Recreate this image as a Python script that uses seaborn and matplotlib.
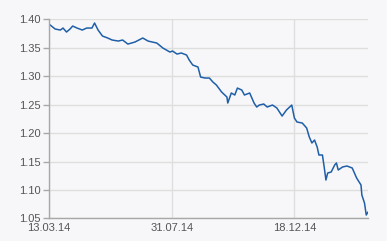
import matplotlib
matplotlib.use("Agg")
import matplotlib.pyplot as plt
import matplotlib.dates as mdates
import pandas as pd
import seaborn as sns

dates = [
    "2014-03-13", "2014-03-20", "2014-03-26", "2014-03-29", "2014-04-02", "2014-04-06",
    "2014-04-09", "2014-04-14", "2014-04-20", "2014-04-25", "2014-05-01", "2014-05-04",
    "2014-05-08", "2014-05-13", "2014-05-19", "2014-05-24", "2014-05-31", "2014-06-05",
    "2014-06-11", "2014-06-19", "2014-06-28", "2014-07-04", "2014-07-09", "2014-07-14",
    "2014-07-21", "2014-07-29", "2014-08-01", "2014-08-06", "2014-08-11", "2014-08-17",
    "2014-08-20", "2014-08-24", "2014-08-30", "2014-09-02", "2014-09-07", "2014-09-12",
    "2014-09-16", "2014-09-20", "2014-09-26", "2014-10-02", "2014-10-03", "2014-10-07",
    "2014-10-11", "2014-10-14", "2014-10-19", "2014-10-22", "2014-10-28", "2014-11-02",
    "2014-11-05", "2014-11-08", "2014-11-13", "2014-11-17", "2014-11-23", "2014-11-28",
    "2014-12-04", "2014-12-09", "2014-12-15", "2014-12-18", "2014-12-21", "2014-12-27",
    "2015-01-01", "2015-01-04", "2015-01-07", "2015-01-10", "2015-01-13", "2015-01-15",
    "2015-01-19", "2015-01-21", "2015-01-23", "2015-01-25", "2015-01-29", "2015-02-02",
    "2015-02-04", "2015-02-06", "2015-02-11", "2015-02-16", "2015-02-22", "2015-02-27",
    "2015-03-04", "2015-03-05", "2015-03-08", "2015-03-10", "2015-03-12",
]
rates = [
    1.3912, 1.3825, 1.3807, 1.3842, 1.3772, 1.3825,
    1.3877, 1.3842, 1.3807, 1.3842, 1.3842, 1.3930,
    1.3807, 1.3702, 1.3667, 1.3632, 1.3614, 1.3632,
    1.3561, 1.3596, 1.3667, 1.3614, 1.3596, 1.3579,
    1.3491, 1.3421, 1.3439, 1.3386, 1.3404, 1.3368,
    1.3281, 1.3193, 1.3158, 1.2982, 1.2965, 1.2965,
    1.2895, 1.2842, 1.2719, 1.2632, 1.2526, 1.2702,
    1.2667, 1.2789, 1.2754, 1.2667, 1.2702, 1.2526,
    1.2456, 1.2491, 1.2509, 1.2456, 1.2491, 1.2439,
    1.2298, 1.2404, 1.2491, 1.2263, 1.2193, 1.2175,
    1.2088, 1.1930, 1.1825, 1.1877, 1.1754, 1.1614,
    1.1614, 1.1404, 1.1175, 1.1298, 1.1316, 1.1439,
    1.1474, 1.1351, 1.1404, 1.1421, 1.1386, 1.1211,
    1.1088, 1.0912, 1.0772, 1.0561, 1.0614,
]
tick_dates = ["2014-03-13", "2014-07-31", "2014-12-18"]
y_ticks = [1.05, 1.10, 1.15, 1.20, 1.25, 1.30, 1.35, 1.40]

n = min(len(dates), len(rates))
df = pd.DataFrame({"date": pd.to_datetime(dates[:n]), "rate": rates[:n]})

sns.set_style("white")
plt.rcParams["font.family"] = ["Liberation Sans", "DejaVu Sans"]

bg = "#f7f7f9"
fig = plt.figure(figsize=(3.87, 2.41), dpi=100, facecolor=bg)
ax = fig.add_axes([0.1266, 0.0934, 0.8243, 0.8276])
ax.set_facecolor(bg)

sns.lineplot(data=df, x="date", y="rate", ax=ax, color="#1f5fa8", linewidth=1.1)

ax.set_xlim(pd.Timestamp("2014-03-13"), pd.Timestamp("2015-03-12"))
ax.set_ylim(1.05, 1.40)
ax.set_xticks(pd.to_datetime(tick_dates))
ax.xaxis.set_major_formatter(mdates.DateFormatter("%d.%m.%y"))
ax.set_yticks(y_ticks)
ax.set_yticklabels([f"{v:.2f}" for v in y_ticks])

ax.grid(True, color="#dedede", linewidth=1.0)
ax.set_axisbelow(True)
for s in ["top", "right"]:
    ax.spines[s].set_visible(False)
for s in ["left", "bottom"]:
    ax.spines[s].set_color("#a8a8a8")
    ax.spines[s].set_linewidth(1.0)
ax.tick_params(axis="y", length=4, width=1, color="#a8a8a8", labelsize=8,
               labelcolor="#555555", pad=2, left=True)
ax.tick_params(axis="x", length=0, labelsize=8, labelcolor="#555555", pad=3.5, bottom=True)
ax.set_xlabel("")
ax.set_ylabel("")

fig.savefig("out.png", dpi=100, facecolor=bg)
